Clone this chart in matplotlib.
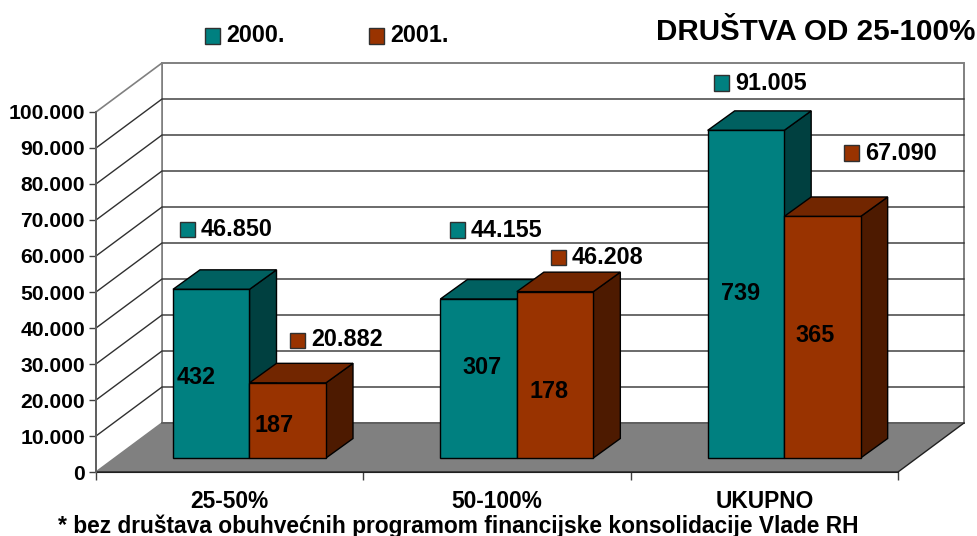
import matplotlib
matplotlib.use('Agg')
import matplotlib.pyplot as plt
from matplotlib.patches import Polygon, Rectangle

plt.rcParams['font.family'] = ['Liberation Sans', 'DejaVu Sans']
plt.rcParams['font.weight'] = 'bold'

categorias = ['25-50%', '50-100%', 'UKUPNO']
anios = ['2000.', '2001.']
valores_2000 = [46850, 44155, 91005]
valores_2001 = [20882, 46208, 67090]
numero_2000 = [432, 307, 739]
numero_2001 = [187, 178, 365]
ticks_y = [0, 10000, 20000, 30000, 40000, 50000, 60000, 70000, 80000, 90000, 100000]

W, H = 977, 536
TXT = 16.8

def fmt(v):
    return f'{v:,}'.replace(',', '.')

fig = plt.figure(figsize=(W / 100, H / 100), dpi=100)
ax = fig.add_axes([96 / W, 1 - 472 / H, 802 / W, 360 / H])
ax.set_xlim(0, 3)
ax.set_ylim(0, 100000)
ax.patch.set_visible(False)

# conversion px -> data
px = 3 / 802
py = 100000 / 360
wall_dx = 66 * px
wall_dy = 49 * py
box_dx = 27 * px
box_dy = 19.5 * py
gap_dy = 14 * py
bar_w = 76.5 * px

def poly(pts, fc, ec='black', lw=1.0, z=3):
    ax.add_patch(Polygon(pts, closed=True, fc=fc, ec=ec, lw=lw, zorder=z, clip_on=False, joinstyle='miter'))

# pared del fondo y lineas de la cuadricula
poly([(wall_dx, wall_dy), (3 + wall_dx, wall_dy), (3 + wall_dx, 100000 + wall_dy), (wall_dx, 100000 + wall_dy)],
     'white', ec='#808080', lw=1.4, z=1)
poly([(0, 0), (wall_dx, wall_dy), (wall_dx, 100000 + wall_dy), (0, 100000)], 'white', ec='#808080', lw=1.2, z=1)
for t in ticks_y[1:-1]:
    ax.plot([0, wall_dx, 3 + wall_dx], [t, t + wall_dy, t + wall_dy], color='#303030', lw=1.0, zorder=1.5, clip_on=False)

# suelo
poly([(0, 0), (3, 0), (3 + wall_dx, wall_dy), (wall_dx, wall_dy)], '#808080', ec='none', z=2)
ax.plot([wall_dx, 3 + wall_dx], [wall_dy, wall_dy], color='#606060', lw=1.4, zorder=2.1, clip_on=False)
ax.plot([0, 3, 3 + wall_dx], [0, 0, wall_dy], color='#202020', lw=1.0, zorder=2.1, clip_on=False)

def barra(x0, v, front, top, side, z):
    x1 = x0 + bar_w
    y0 = gap_dy
    y1 = v
    poly([(x1, y0), (x1 + box_dx, y0 + box_dy), (x1 + box_dx, y1 + box_dy), (x1, y1)], side, z=z)
    poly([(x0, y1), (x1, y1), (x1 + box_dx, y1 + box_dy), (x0 + box_dx, y1 + box_dy)], top, z=z)
    poly([(x0, y0), (x1, y0), (x1, y1), (x0, y1)], front, z=z)

for i in range(len(categorias)):
    x0 = i + 77 * px
    barra(x0, valores_2000[i] + gap_dy, '#008080', '#006060', '#004040', 3 + i)
    barra(x0 + bar_w, valores_2001[i] + gap_dy, '#993300', '#722600', '#4d1a00', 3.5 + i)

# ejes
for s in ['top', 'right']:
    ax.spines[s].set_visible(False)
ax.spines['left'].set_color('#606060')
ax.spines['left'].set_linewidth(1.4)
ax.spines['bottom'].set_color('#202020')
ax.spines['bottom'].set_zorder(2.2)
ax.set_yticks(ticks_y)
ax.set_yticklabels([fmt(t) for t in ticks_y], fontsize=15.2, fontweight='bold')
ax.tick_params(axis='y', length=5, width=1, color='#404040', pad=3)
ax.set_xticks([0, 1, 2, 3])
ax.set_xticklabels([])
ax.tick_params(axis='x', which='major', length=6, width=1, color='#404040')
ax.set_xticks([0.5, 1.5, 2.5], minor=True)
ax.set_xticklabels(categorias, minor=True, fontsize=16.4, fontweight='bold')
ax.tick_params(axis='x', which='minor', length=0, pad=13)

def texto(x, y, s, ha='left', size=TXT):
    fig.text(x / W, 1 - y / H, s, ha=ha, va='center', fontsize=size, fontweight='bold', color='black', zorder=20)

def etiqueta(x, y, s, color):
    fig.add_artist(Rectangle(((x - 7.5) / W, 1 - (y + 7.5) / H), 15 / W, 15 / H, transform=fig.transFigure,
                             fc=color, ec='#303030', lw=1.0, zorder=19))
    texto(x + 14, y, s)

# leyenda y titulo
etiqueta(212, 36, anios[0], '#008080')
etiqueta(376, 36, anios[1], '#993300')
texto(975, 32, 'DRUŠTVA OD 25-100%', ha='right', size=21.3)

# valores sobre las barras
pos_2000 = [(187, 229), (457, 230), (721, 83)]
pos_2001 = [(297, 340), (558, 258), (851, 153)]
for i in range(3):
    etiqueta(pos_2000[i][0], pos_2000[i][1], fmt(valores_2000[i]), '#008080')
    etiqueta(pos_2001[i][0], pos_2001[i][1], fmt(valores_2001[i]), '#993300')

# numero de sociedades dentro de las barras
pos_n_2000 = [(196, 378), (482, 367), (741, 294)]
pos_n_2001 = [(274, 426), (549, 391), (815, 335)]
for i in range(3):
    texto(pos_n_2000[i][0], pos_n_2000[i][1], str(numero_2000[i]), ha='center')
    texto(pos_n_2001[i][0], pos_n_2001[i][1], str(numero_2001[i]), ha='center')

texto(458, 526, '* bez društava obuhvećnih programom financijske konsolidacije Vlade RH', ha='center', size=16.4)

fig.savefig('out.png', dpi=100)
